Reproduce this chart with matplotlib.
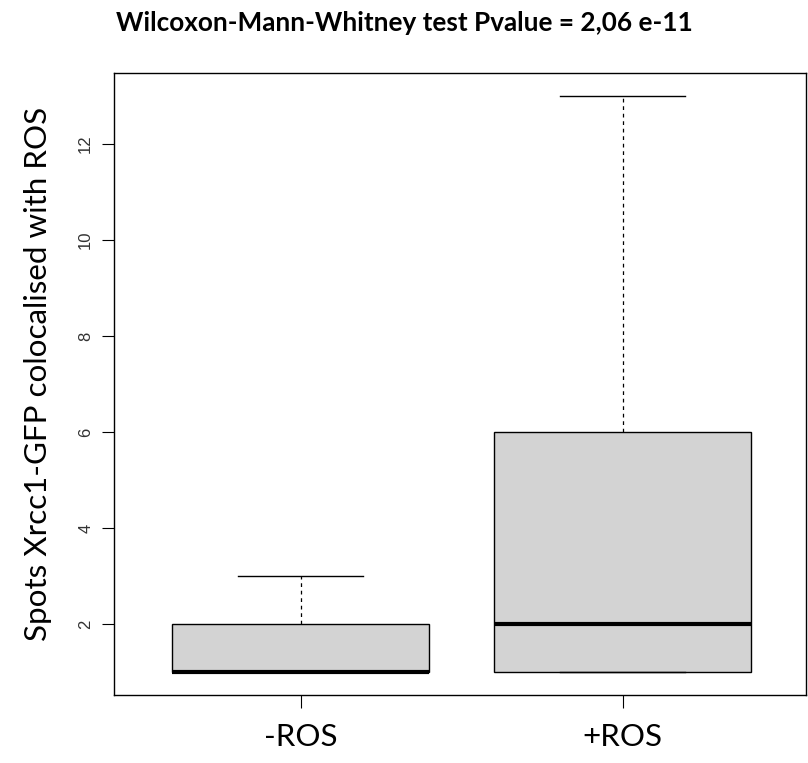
import matplotlib
matplotlib.use("Agg")
import matplotlib.pyplot as plt

categories = ["-ROS", "+ROS"]
whisker_low = [1, 1]
q1 = [1, 1]
median = [1, 2]
q3 = [2, 6]
whisker_high = [3, 13]
yticks = [2, 4, 6, 8, 10, 12]
title = "Wilcoxon-Mann-Whitney test Pvalue = 2,06 e-11"
ylabel = "Spots Xrcc1-GFP colocalised with ROS"

fig = plt.figure(figsize=(8.08, 7.63), dpi=100)
ax = fig.add_axes([114/808, 1-695/763, (806-114)/808, (695-73)/763])

stats = []
for i, c in enumerate(categories):
    stats.append(dict(label=c, whislo=whisker_low[i], q1=q1[i], med=median[i],
                      q3=q3[i], whishi=whisker_high[i], fliers=[]))

ax.bxp(stats, positions=[1, 2], widths=0.8, patch_artist=True, showfliers=False,
       boxprops=dict(facecolor="#d3d3d3", edgecolor="black", linewidth=1.0),
       medianprops=dict(color="black", linewidth=3, solid_capstyle="butt"),
       whiskerprops=dict(color="black", linewidth=0.9, linestyle=(0, (3, 3))),
       capprops=dict(color="black", linewidth=1.0), capwidths=0.39)

ax.set_xlim(0.42, 2.57)
ax.set_ylim(0.52, 13.48)
ax.set_yticks(yticks)
ax.set_yticklabels([str(t) for t in yticks], rotation=90, va="center",
                   fontsize=12, family="Liberation Sans", color="#333333")
ax.tick_params(axis="y", length=9, width=0.8, pad=6)
ax.set_xticks([1, 2])
ax.set_xticklabels(categories, fontsize=22.5, family="Lato")
ax.tick_params(axis="x", length=9, width=0.8, pad=11)
for s in ax.spines.values():
    s.set_linewidth(1.0)

fig.text(404/808, 1-23/763, title, ha="center", va="center", fontsize=18.8,
         fontweight="bold", family="Lato")
fig.text(38/808, 1-374/763, ylabel, ha="center", va="center", rotation=90,
         fontsize=22.6, family="Lato")

fig.savefig("out.png", dpi=100)
